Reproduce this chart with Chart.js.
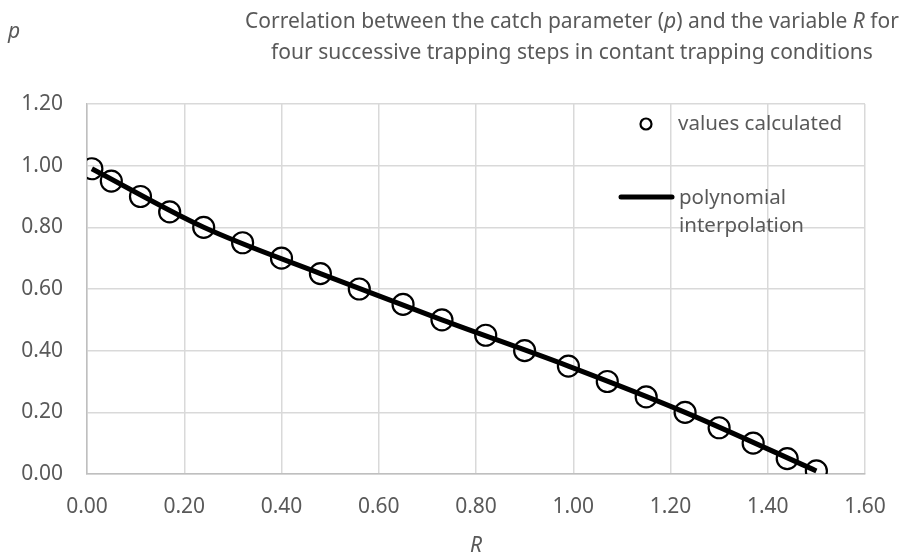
<!DOCTYPE html>
<html>
<head>
<meta charset="utf-8">
<script src="https://cdn.jsdelivr.net/npm/chart.js@4.4.1/dist/chart.umd.min.js"></script>
<style>
  html, body { margin: 0; padding: 0; background: #fff; }
  #wrap { width: 908px; height: 556px; position: relative; }
</style>
</head>
<body>
<div id="wrap"><canvas id="chart" width="908" height="556"></canvas></div>
<script>
// values calculated (R, p)
const rValues = [0.01, 0.05, 0.11, 0.17, 0.24, 0.32, 0.40, 0.48, 0.56, 0.65, 0.73, 0.82,
                 0.90, 0.99, 1.07, 1.15, 1.23, 1.30, 1.37, 1.44, 1.50];
const pValues = [0.99, 0.95, 0.90, 0.85, 0.80, 0.75, 0.70, 0.65, 0.60, 0.55, 0.50, 0.45,
                 0.40, 0.35, 0.30, 0.25, 0.20, 0.15, 0.10, 0.05, 0.01];

// polynomial interpolation
const fitR = [0.01, 0.24, 0.48, 0.73, 0.99, 1.23, 1.50];
const fitP = [0.99, 0.80, 0.65, 0.50, 0.35, 0.20, 0.01];

const xTicks = [0, 0.2, 0.4, 0.6, 0.8, 1.0, 1.2, 1.4, 1.6];
const yTicks = [0, 0.2, 0.4, 0.6, 0.8, 1.0, 1.2];

const titleLines = [
    [['Correlation between the catch parameter (', false], ['p', true], [') and the variable ', false], ['R', true], [' for', false]],
    [['four successive trapping steps in contant trapping conditions', false]]
];
const legendTexts = ['values calculated', 'polynomial', 'interpolation'];

const FONT = '"Noto Sans", sans-serif';
const TEXT = '#595959';
const GRID = '#d9d9d9';

// Titel, Achsenbeschriftung und Legende selbst zeichnen (Kursiv gemischt)
const decorPlugin = {
    id: 'decor',
    afterDraw(chart) {
        const ctx = chart.ctx;
        ctx.save();
        ctx.fillStyle = TEXT;
        ctx.textBaseline = 'alphabetic';

        // title, right end of line 1 near the canvas edge
        const tSize = 21;
        const baselines = [28, 59];
        const centreX = 572;
        titleLines.forEach((parts, i) => {
            let total = 0;
            parts.forEach(([s, it]) => {
                ctx.font = (it ? 'italic ' : '') + tSize + 'px ' + FONT;
                total += ctx.measureText(s).width;
            });
            let x = centreX - total / 2;
            ctx.textAlign = 'left';
            parts.forEach(([s, it]) => {
                ctx.font = (it ? 'italic ' : '') + tSize + 'px ' + FONT;
                ctx.fillText(s, x, baselines[i]);
                x += ctx.measureText(s).width;
            });
        });

        // axis titles
        ctx.font = 'italic 21px ' + FONT;
        ctx.textAlign = 'left';
        ctx.fillText('p', 8, 38);
        ctx.fillText('R', 470, 552);

        // legend
        ctx.font = '20.5px ' + FONT;
        ctx.fillText(legendTexts[0], 678, 130);
        ctx.fillText(legendTexts[1], 679, 204);
        ctx.fillText(legendTexts[2], 679, 232);

        ctx.strokeStyle = '#000';
        ctx.lineWidth = 2.2;
        ctx.beginPath();
        ctx.arc(646, 124, 5.5, 0, Math.PI * 2);
        ctx.stroke();

        ctx.lineWidth = 5;
        ctx.lineCap = 'round';
        ctx.beginPath();
        ctx.moveTo(621, 197);
        ctx.lineTo(672, 197);
        ctx.stroke();
        ctx.restore();
    }
};

const ctx = document.getElementById('chart').getContext('2d');
new Chart(ctx, {
    type: 'scatter',
    data: {
        datasets: [
            {
                label: 'values calculated',
                data: rValues.map((r, i) => ({ x: r, y: pValues[i] })),
                pointRadius: 10.5,
                pointBorderWidth: 2.2,
                pointBorderColor: '#000',
                pointBackgroundColor: 'rgba(0,0,0,0)',
                showLine: false,
                order: 2
            },
            {
                label: 'polynomial interpolation',
                data: fitR.map((r, i) => ({ x: r, y: fitP[i] })),
                showLine: true,
                borderColor: '#000',
                borderWidth: 5,
                pointRadius: 0,
                tension: 0.4,
                cubicInterpolationMode: 'monotone',
                order: 1
            }
        ]
    },
    options: {
        responsive: false,
        animation: false,
        devicePixelRatio: 1,
        layout: { padding: { left: 0, top: 104, right: 43, bottom: 0 } },
        plugins: {
            legend: { display: false },
            title: { display: false },
            tooltip: { enabled: false }
        },
        scales: {
            x: {
                type: 'linear',
                min: 0,
                max: 1.6,
                afterBuildTicks: (axis) => { axis.ticks = xTicks.map(v => ({ value: v })); },
                afterFit: (axis) => { axis.height = 82; },
                grid: { color: GRID, lineWidth: 1.5, drawTicks: false },
                border: { color: '#bfbfbf', width: 1.5 },
                ticks: {
                    color: TEXT,
                    padding: 20,
                    font: { family: FONT, size: 21 },
                    callback: (v) => Number(v).toFixed(2)
                }
            },
            y: {
                type: 'linear',
                min: 0,
                max: 1.2,
                afterBuildTicks: (axis) => { axis.ticks = yTicks.map(v => ({ value: v })); },
                afterFit: (axis) => { axis.width = 87; },
                grid: { color: GRID, lineWidth: 1.5, drawTicks: false },
                border: { color: '#bfbfbf', width: 1.5 },
                ticks: {
                    color: TEXT,
                    padding: 24,
                    font: { family: FONT, size: 21 },
                    callback: (v) => Number(v).toFixed(2)
                }
            }
        }
    },
    plugins: [decorPlugin]
});
</script>
</body>
</html>
